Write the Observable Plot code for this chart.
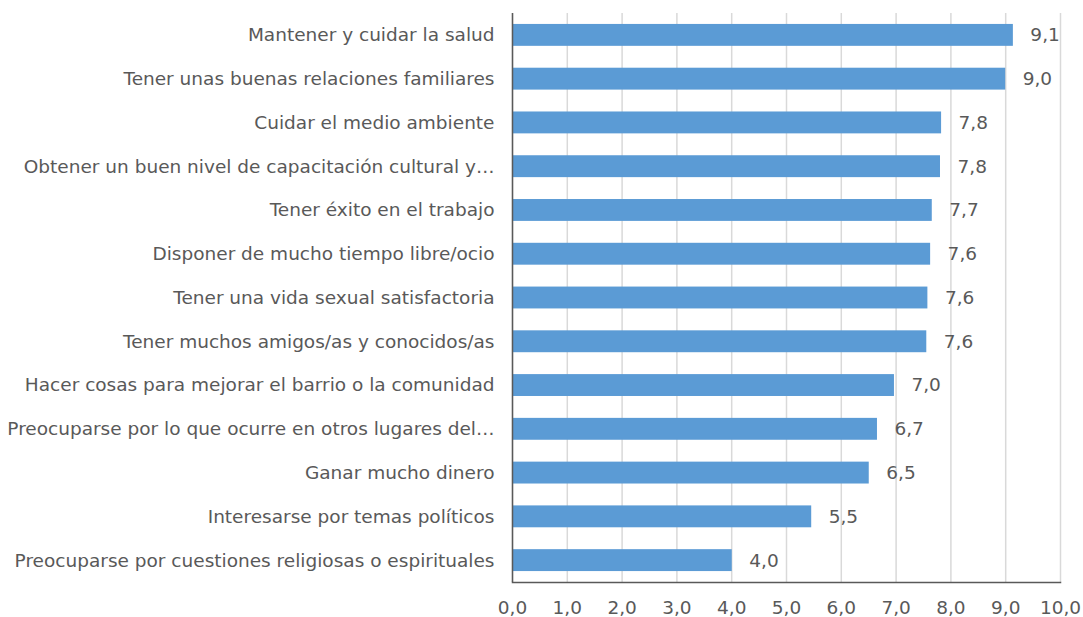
<!DOCTYPE html>
<html>
<head>
<meta charset="utf-8">
<script src="https://cdn.jsdelivr.net/npm/d3@7"></script>
<script src="https://cdn.jsdelivr.net/npm/@observablehq/plot@0.6"></script>
<style>
  html, body { margin: 0; padding: 0; background: #fff; }
  svg { display: block; }
</style>
</head>
<body>
<div id="chart"></div>
<script>
const categories = [
  "Mantener y cuidar la salud",
  "Tener unas buenas relaciones familiares",
  "Cuidar el medio ambiente",
  "Obtener un buen nivel de capacitación cultural y…",
  "Tener éxito en el trabajo",
  "Disponer de mucho tiempo libre/ocio",
  "Tener una vida sexual satisfactoria",
  "Tener muchos amigos/as y conocidos/as",
  "Hacer cosas para mejorar el barrio o la comunidad",
  "Preocuparse por lo que ocurre en otros lugares del…",
  "Ganar mucho dinero",
  "Interesarse por temas políticos",
  "Preocuparse por cuestiones religiosas o espirituales"
];
const values = [9.14, 9.0, 7.83, 7.81, 7.66, 7.63, 7.58, 7.56, 6.97, 6.66, 6.51, 5.46, 4.01];
const xTicks = [0, 1, 2, 3, 4, 5, 6, 7, 8, 9, 10];

const data = categories.map((c, i) => ({category: c, value: values[i]}));
const fmt = d => d.toFixed(1).replace(".", ",");
const FS = 18.5;

const chart = Plot.plot({
  width: 1083,
  height: 617,
  marginLeft: 512,
  marginRight: 23,
  marginTop: 13,
  marginBottom: 35,
  style: {fontFamily: "'DejaVu Sans', Verdana, sans-serif", fontSize: FS + "px", color: "#595959", background: "#fff"},
  x: {domain: [0, 10]},
  y: {domain: categories, paddingInner: 0.5, paddingOuter: 0.25, round: false},
  marks: [
    Plot.ruleX(xTicks, {stroke: "#d9d9d9", strokeWidth: 1.5}),
    Plot.barX(data, {x: "value", y: "category", fill: "#5b9bd5"}),
    Plot.text(data, {x: "value", y: "category", text: d => fmt(d.value), textAnchor: "start", dx: 17, fill: "#595959", fontSize: FS}),
    Plot.ruleX([0], {stroke: "#595959", strokeWidth: 1.5}),
    Plot.frame({anchor: "bottom", stroke: "#595959", strokeWidth: 1.5}),
    Plot.axisY({tickSize: 0, tickPadding: 18, label: null, fill: "#595959", fontSize: FS}),
    Plot.axisX({ticks: xTicks, tickFormat: fmt, tickSize: 0, tickPadding: 18, label: null, fill: "#595959", fontSize: FS})
  ]
});
document.getElementById("chart").appendChild(chart);
</script>
</body>
</html>
